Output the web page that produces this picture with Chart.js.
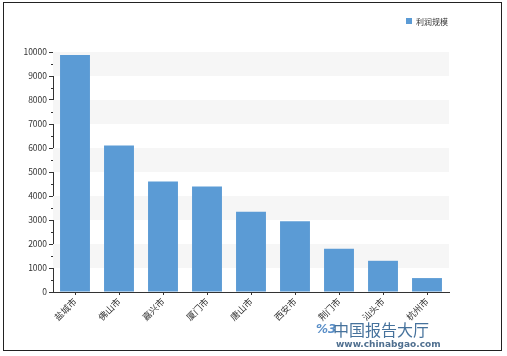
<!DOCTYPE html>
<html>
<head>
<meta charset="utf-8">
<script src="https://cdn.jsdelivr.net/npm/chart.js@4/dist/chart.umd.min.js"></script>
<style>
  html, body { margin: 0; padding: 0; background: #fff; }
  #wrap { position: relative; width: 507px; height: 356px; overflow: hidden; }
  #frame { position: absolute; left: 3px; top: 2px; width: 497px; height: 347px; border: 1.5px solid #222; pointer-events: none; }
  #mark { position: absolute; left: 308px; top: 320px; font-family: "Noto Sans CJK SC", sans-serif; pointer-events: none; }
  #mark .cn { position: absolute; left: 25px; top: 0; font-size: 16px; line-height: 18px; color: #46729c; white-space: nowrap; }
  #mark .url { position: absolute; left: 28px; top: 19px; font-size: 9px; line-height: 11px; color: #4f6f8f; font-family: "DejaVu Sans", sans-serif; font-weight: bold; white-space: nowrap; }
  #mark .ico { position: absolute; left: 8px; top: 1px; font-size: 12px; line-height: 16px; color: #5a8fc8; font-style: italic; font-weight: bold; font-family: "DejaVu Sans", sans-serif; }
</style>
</head>
<body>
<div id="wrap">
  <canvas id="c" width="507" height="356"></canvas>
  <div id="frame"></div>
  <div id="mark"><span class="ico">%3</span><span class="cn">中国报告大厅</span><span class="url">www.chinabgao.com</span></div>
</div>
<script>
// Profit scale by city
const cities = ['盐城市', '佛山市', '嘉兴市', '厦门市', '唐山市', '西安市', '荆门市', '汕头市', '杭州市'];
const profitScale = [9870, 6100, 4600, 4400, 3340, 2950, 1800, 1300, 580];
const seriesName = '利润规模';
const yTickValues = [0, 1000, 2000, 3000, 4000, 5000, 6000, 7000, 8000, 9000, 10000];

const FONT = '"Noto Sans CJK SC", "Noto Sans", sans-serif';
const BAR = '#5b9bd5';
const AXIS = '#333333';

// Light alternating bands behind the bars, minor ticks on the value axis, legend entry
const bandsPlugin = {
  id: 'bands',
  beforeDatasetsDraw(chart) {
    const { ctx, chartArea, scales: { y } } = chart;
    ctx.save();
    ctx.fillStyle = '#f6f6f6';
    for (let i = 1; i < yTickValues.length - 1; i += 2) {
      const top = y.getPixelForValue(yTickValues[i + 1]);
      const bottom = y.getPixelForValue(yTickValues[i]);
      ctx.fillRect(chartArea.left, top, chartArea.right - chartArea.left, bottom - top);
    }
    ctx.restore();
  },
  afterDraw(chart) {
    const { ctx, chartArea, scales: { y } } = chart;
    ctx.save();
    ctx.strokeStyle = AXIS;
    ctx.lineWidth = 1;
    for (let i = 0; i < yTickValues.length - 1; i++) {
      const py = Math.round(y.getPixelForValue((yTickValues[i] + yTickValues[i + 1]) / 2)) + 0.5;
      ctx.beginPath();
      ctx.moveTo(chartArea.left - 2, py);
      ctx.lineTo(chartArea.left, py);
      ctx.stroke();
    }
    const ds = chart.data.datasets[0];
    ctx.fillStyle = ds.backgroundColor;
    ctx.fillRect(406, 18, 6, 6);
    ctx.fillStyle = '#333';
    ctx.font = '8px ' + FONT;
    ctx.textBaseline = 'middle';
    ctx.textAlign = 'left';
    ctx.fillText(ds.label, 416, 21.5);
    ctx.restore();
  }
};

new Chart(document.getElementById('c'), {
  type: 'bar',
  data: {
    labels: cities,
    datasets: [{
      label: seriesName,
      data: profitScale,
      backgroundColor: BAR,
      borderWidth: 0,
      categoryPercentage: 1,
      barPercentage: 0.68
    }]
  },
  options: {
    responsive: false,
    animation: false,
    devicePixelRatio: 1,
    layout: { padding: { top: 52, right: 58, bottom: 0, left: 0 } },
    plugins: { legend: { display: false }, tooltip: { enabled: false } },
    scales: {
      x: {
        afterFit(s) { s.height = 64; },
        grid: { display: true, drawOnChartArea: false, offset: false, tickLength: 3, color: AXIS },
        border: { display: true, color: AXIS, width: 1 },
        ticks: {
          color: '#333',
          font: { family: FONT, size: 9 },
          minRotation: 45,
          maxRotation: 45,
          padding: 1,
          autoSkip: false
        }
      },
      y: {
        min: 0,
        max: 10000,
        afterFit(s) { s.width = 53; },
        afterBuildTicks(s) { s.ticks = yTickValues.map(v => ({ value: v })); },
        grid: { display: true, drawOnChartArea: false, tickLength: 4, color: AXIS },
        border: { display: true, color: AXIS, width: 1 },
        ticks: {
          color: '#333',
          font: { family: FONT, size: 8.5 },
          padding: 2,
          callback: v => String(v)
        }
      }
    }
  },
  plugins: [bandsPlugin]
});
</script>
</body>
</html>
